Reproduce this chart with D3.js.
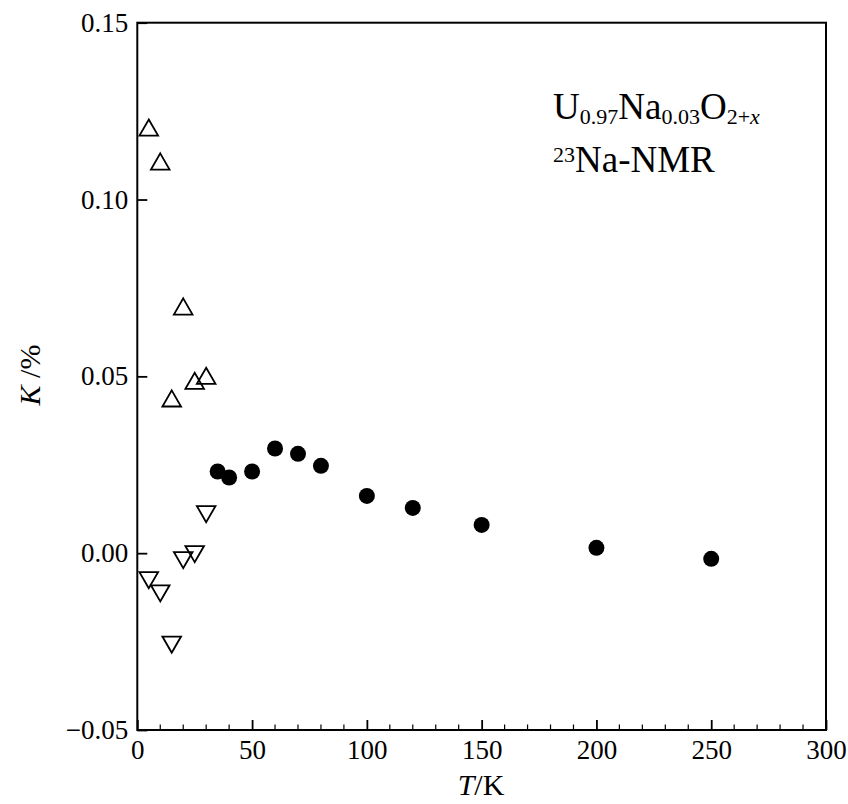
<!doctype html>
<html lang="en">
<head>
    <meta charset="utf-8">
    <title></title>
    <script src="https://d3js.org/d3.v7.min.js"></script>
    <style type="text/css">
        body { margin: 0; background: white; }
        text { font-family: "Liberation Serif", "DejaVu Serif", serif; }
    </style>
</head>

<body>
</body>

<script type="text/javascript">

    // K (%) vs T (K) for 23Na NMR
    var upT   = [5, 10, 15, 20, 25, 30];
    var upK   = [0.1196, 0.110, 0.043, 0.069, 0.048, 0.0494];
    var downT = [5, 10, 15, 20, 25, 30];
    var downK = [-0.0069, -0.0106, -0.0251, -0.0012, 0.0005, 0.0118];
    var dotT  = [35, 40, 50, 60, 70, 80, 100, 120, 150, 200, 250];
    var dotK  = [0.0231, 0.0214, 0.0231, 0.0296, 0.0281, 0.0247, 0.0162, 0.0128, 0.0080, 0.0015, -0.0016];

    var xTicks = [0, 50, 100, 150, 200, 250, 300];
    var yTicks = [-0.05, 0.00, 0.05, 0.10, 0.15];

    var width  = 848;
    var height = 804;
    var pLeft = 137.3, pRight = 826, pTop = 22.7, pBottom = 730;

    var xScale = d3.scaleLinear().domain([0, 300]).range([pLeft, pRight]);
    var yScale = d3.scaleLinear().domain([-0.05, 0.15]).range([pBottom, pTop]);

    var svg = d3.select("body")
                .append("svg")
                .attr("width", width)
                .attr("height", height)
                .style("background", "white");

    // frame
    svg.append("rect")
       .attr("x", pLeft).attr("y", pTop)
       .attr("width", pRight - pLeft).attr("height", pBottom - pTop)
       .style("fill", "none").style("stroke", "black").style("stroke-width", 2);

    // x axis, ticks inward
    var xAxis = d3.axisBottom(xScale).tickValues(xTicks).tickSizeInner(-10).tickSizeOuter(0)
                  .tickPadding(10).tickFormat(d3.format("d"));
    var gx = svg.append("g").attr("transform", "translate(0," + pBottom + ")").call(xAxis);
    gx.select(".domain").remove();
    gx.selectAll(".tick line").style("stroke-width", 1.8);
    gx.selectAll("text").style("font-size", "27px").style("fill", "black");

    var minorX = d3.range(0, 301, 10).filter((d)=>d % 50 !== 0);
    svg.selectAll(".minorx").data(minorX).enter().append("line")
       .attr("x1", (d)=>xScale(d)).attr("x2", (d)=>xScale(d))
       .attr("y1", pBottom).attr("y2", pBottom - 5.5)
       .style("stroke", "black").style("stroke-width", 1.2);

    // y axis
    var yAxis = d3.axisLeft(yScale).tickValues(yTicks).tickSizeInner(-10).tickSizeOuter(0)
                  .tickPadding(9).tickFormat((d)=>d3.format(".2f")(d).replace("-", "\u2212"));
    var gy = svg.append("g").attr("transform", "translate(" + pLeft + ",0)").call(yAxis);
    gy.select(".domain").remove();
    gy.selectAll(".tick line").style("stroke-width", 1.8);
    gy.selectAll("text").style("font-size", "27px").style("fill", "black");

    // axis labels
    var xl = svg.append("text").attr("x", 481).attr("y", 795)
                .attr("text-anchor", "middle").style("font-size", "30px");
    xl.append("tspan").style("font-style", "italic").text("T");
    xl.append("tspan").text("/K");

    var yl = svg.append("text").attr("transform", "translate(40,375) rotate(-90)")
                .attr("text-anchor", "middle").style("font-size", "30px");
    yl.append("tspan").style("font-style", "italic").text("K");
    yl.append("tspan").text(" /%");

    // markers
    var tri = d3.symbol().type(d3.symbolTriangle).size(150);

    svg.selectAll(".up").data(upT).enter().append("path")
       .attr("d", tri)
       .attr("transform", (d, i)=>"translate(" + xScale(d) + "," + yScale(upK[i]) + ")")
       .style("fill", "none").style("stroke", "black").style("stroke-width", 1.8);

    svg.selectAll(".down").data(downT).enter().append("path")
       .attr("d", tri)
       .attr("transform", (d, i)=>"translate(" + xScale(d) + "," + yScale(downK[i]) + ") rotate(180)")
       .style("fill", "none").style("stroke", "black").style("stroke-width", 1.8);

    svg.selectAll(".dot").data(dotT).enter().append("circle")
       .attr("cx", (d)=>xScale(d))
       .attr("cy", (d, i)=>yScale(dotK[i]))
       .attr("r", 8)
       .style("fill", "black");

    // annotation
    var a1 = svg.append("text").attr("x", 553).attr("y", 119).style("font-size", "37px");
    a1.append("tspan").text("U");
    a1.append("tspan").attr("dy", 5).style("font-size", "22px").text("0.97");
    a1.append("tspan").attr("dy", -5).text("Na");
    a1.append("tspan").attr("dy", 5).style("font-size", "22px").text("0.03");
    a1.append("tspan").attr("dy", -5).text("O");
    a1.append("tspan").attr("dy", 5).style("font-size", "22px").text("2+");
    a1.append("tspan").style("font-size", "22px").style("font-style", "italic").text("x");

    var a2 = svg.append("text").attr("x", 553).attr("y", 172).style("font-size", "37px");
    a2.append("tspan").attr("dy", -10).style("font-size", "22px").text("23");
    a2.append("tspan").attr("dy", 10).text("Na-NMR");

</script>

</html>
